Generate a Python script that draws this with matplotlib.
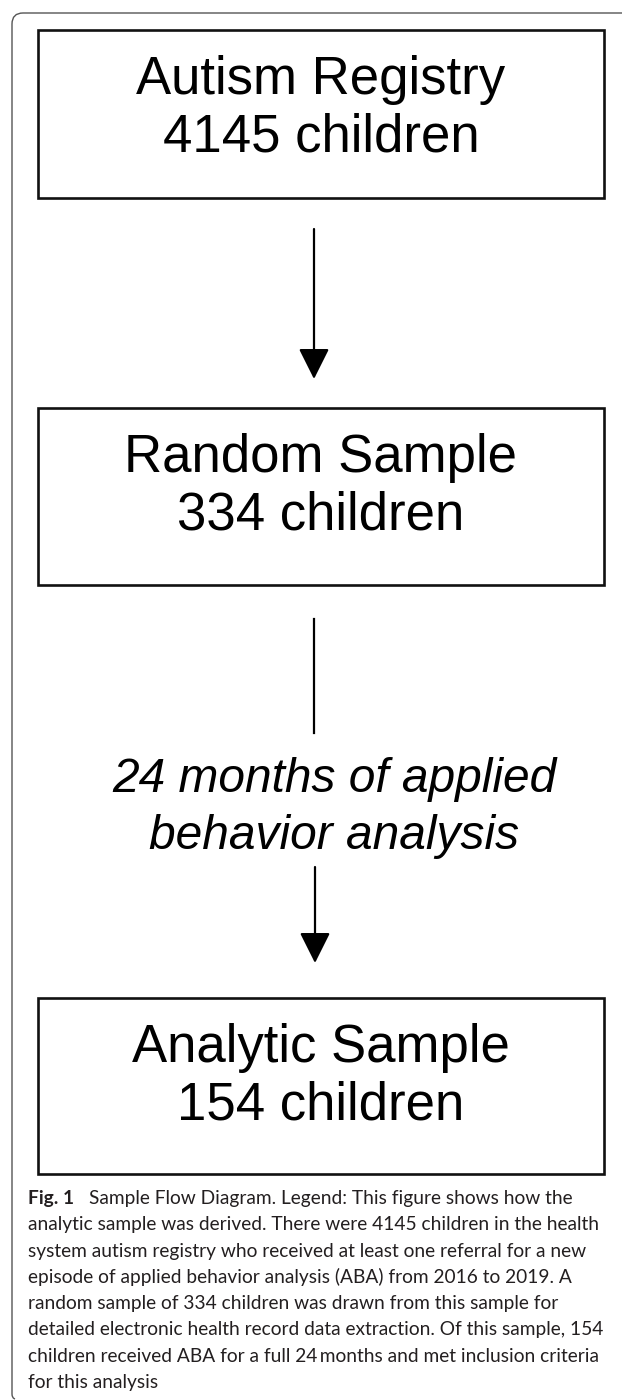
import matplotlib.pyplot as plt
from matplotlib.patches import Rectangle
from matplotlib.path import Path
from matplotlib.patches import PathPatch

# flow diagram content
stages = ["Autism Registry", "Random Sample", "Analytic Sample"]
counts = [4145, 334, 154]
step_text = ["24 months of applied", "behavior analysis"]

fig_label = "Fig. 1"
caption_lines = [
    "Sample Flow Diagram. Legend: This figure shows how the",
    "analytic sample was derived. There were 4145 children in the health",
    "system autism registry who received at least one referral for a new",
    "episode of applied behavior analysis (ABA) from 2016 to 2019. A",
    "random sample of 334 children was drawn from this sample for",
    "detailed electronic health record data extraction. Of this sample, 154",
    "children received ABA for a full 24\u2009months and met inclusion criteria",
    "for this analysis",
]

# layout in pixel units (y goes down)
W, H = 622, 1400
box_x0, box_x1 = 38, 604
box_tops = [30, 408, 998]
box_bottoms = [198, 585, 1174]

fig = plt.figure(figsize=(W / 100, H / 100), dpi=100)
ax = fig.add_axes([0, 0, 1, 1])
ax.set_xlim(0, W)
ax.set_ylim(H, 0)
ax.axis('off')

# outer frame: top + left edge with rounded corner
r = 11
verts = [(W, 13), (12 + r, 13), (12, 13), (12, 13 + r), (12, 1394), (12, 1398), (15, 1399)]
codes = [Path.MOVETO, Path.LINETO, Path.CURVE3, Path.CURVE3, Path.LINETO, Path.CURVE3, Path.CURVE3]
ax.add_patch(PathPatch(Path(verts, codes), fill=False, ec='#555555', lw=1.0))

box_font = 'Liberation Sans'
for top, bot, name, n in zip(box_tops, box_bottoms, stages, counts):
    ax.add_patch(Rectangle((box_x0, top), box_x1 - box_x0, bot - top,
                           fill=False, ec='#111111', lw=1.9))
    cx = (box_x0 + box_x1) / 2
    ax.text(cx, top + 64, name, ha='center', va='baseline',
            fontsize=38, family=box_font, color='black')
    ax.text(cx, top + 122, f"{n} children", ha='center', va='baseline',
            fontsize=38, family=box_font, color='black')

arrow_x = 314
aprops = dict(arrowstyle='-|>,head_length=1.0,head_width=0.5', mutation_scale=19,
              color='black', lw=1.6, shrinkA=0, shrinkB=0)
ax.annotate('', xy=(arrow_x, 379), xytext=(arrow_x, 229), arrowprops=aprops)
ax.plot([arrow_x, arrow_x], [619, 733], color='black', lw=1.6)
ax.annotate('', xy=(arrow_x + 1, 963), xytext=(arrow_x + 1, 867), arrowprops=aprops)

ax.text(334, 792, step_text[0], ha='center', va='baseline', fontsize=34.5,
        family=box_font, style='italic', color='black')
ax.text(334, 849, step_text[1], ha='center', va='baseline', fontsize=34.5,
        family=box_font, style='italic', color='black')

# caption
cap_font = 'Lato'
cap_size = 13.8
cap_y0, cap_dy = 1204, 26.3
ax.text(28, cap_y0, fig_label, ha='left', va='baseline', fontsize=cap_size,
        family=cap_font, weight='bold', color='#231f20')
ax.text(89, cap_y0, caption_lines[0], ha='left', va='baseline', fontsize=cap_size,
        family=cap_font, color='#231f20')
for i, line in enumerate(caption_lines[1:], start=1):
    ax.text(28, cap_y0 + i * cap_dy, line, ha='left', va='baseline', fontsize=cap_size,
            family=cap_font, color='#231f20')

fig.savefig('out.png', dpi=100, facecolor='white')
